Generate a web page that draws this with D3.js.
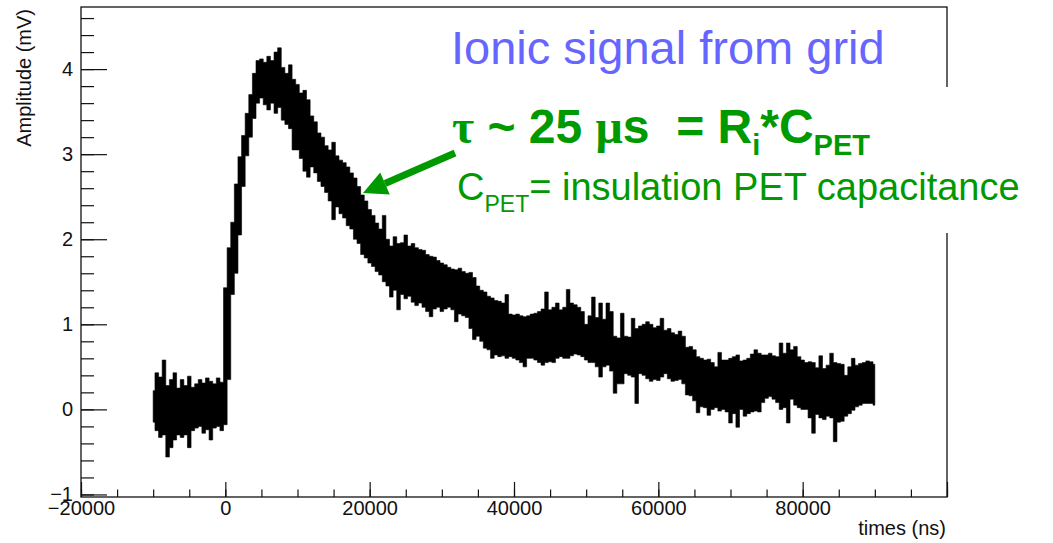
<!DOCTYPE html>
<html>
<head>
<meta charset="utf-8">
<script src="https://cdn.jsdelivr.net/npm/d3@7"></script>
<style>
  html, body { margin: 0; padding: 0; background: #fff; }
  svg { display: block; }
  text { font-family: "Liberation Sans", Arial, Helvetica, sans-serif; }
</style>
</head>
<body>
<svg id="chart" width="1053" height="543"></svg>
<script>
// Waveform sampling grid (ns)
const tStart = -10000;
const tStep = 500;

// Upper envelope of the recorded trace (mV), one value per sample
const ampHigh = [
  0.22,0.43,0.38,0.58,0.28,0.35,0.43,0.25,0.35,0.28,0.39,0.26,0.30,0.35,0.31,0.37,0.33,0.30,0.37,0.32,1.43,
  1.90,2.20,2.65,2.97,3.22,3.48,3.70,3.95,4.10,
  4.12,4.08,4.15,4.10,4.20,4.25,4.02,3.95,4.05,3.88,3.82,
  3.72,3.75,3.64,3.45,3.38,3.25,3.20,3.10,3.05,3.14,2.98,2.93,2.90,2.85,2.78,2.72,2.62,2.52,2.45,2.35,2.28,
  2.19,2.12,2.28,2.00,1.92,2.03,1.95,1.96,2.05,1.92,1.95,1.90,1.88,1.87,1.82,1.80,1.79,1.75,1.72,1.70,1.67,
  1.65,1.64,1.66,1.62,1.60,1.61,1.55,1.45,1.40,1.38,1.33,1.31,1.28,1.27,1.25,1.35,1.12,1.11,1.12,1.10,
  1.09,1.10,1.12,1.13,1.15,1.18,1.38,1.17,1.20,1.25,1.17,1.20,1.41,1.25,1.23,1.20,1.15,1.00,1.10,
  1.32,1.08,1.25,1.06,1.25,1.15,0.86,0.84,1.13,0.86,0.85,1.07,0.95,0.98,1.00,1.03,1.00,0.96,0.98,1.07,0.93,
  0.95,0.90,0.88,0.92,0.86,0.73,0.74,0.70,0.62,0.60,0.58,0.59,0.55,0.50,0.67,0.58,0.58,0.60,0.62,0.64,0.57,
  0.58,0.60,0.65,0.70,0.66,0.64,0.64,0.66,0.63,0.62,0.78,0.66,0.78,0.70,0.74,0.62,0.58,0.55,0.56,
  0.55,0.49,0.63,0.48,0.52,0.66,0.55,0.54,0.53,0.40,0.50,0.60,0.52,0.54,0.55,0.57,0.56,0.53
];

// Lower envelope of the recorded trace (mV), one value per sample
const ampLow = [
  -0.15,-0.25,-0.33,-0.30,-0.56,-0.45,-0.36,-0.30,-0.33,-0.30,-0.45,-0.25,-0.22,-0.20,-0.28,-0.24,-0.36,-0.22,-0.20,-0.25,-0.18,
  0.35,1.35,1.60,2.05,2.62,2.98,3.20,3.42,3.60,
  3.66,3.58,3.52,3.60,3.48,3.55,3.40,3.35,3.30,3.05,3.05,
  2.95,2.80,2.73,2.85,2.78,2.68,2.62,2.55,2.45,2.23,2.38,2.30,2.25,2.16,2.12,2.00,1.95,1.82,1.78,1.72,1.68,
  1.62,1.58,1.50,1.45,1.32,1.40,1.17,1.35,1.30,1.33,1.26,1.22,1.25,1.20,1.15,1.09,1.18,1.20,1.15,1.18,1.20,
  1.17,1.03,1.12,1.10,1.08,0.95,0.82,0.86,0.80,0.72,0.70,0.60,0.64,0.62,0.63,0.60,0.62,0.60,0.58,0.55,
  0.50,0.60,0.60,0.58,0.55,0.52,0.55,0.56,0.55,0.60,0.62,0.60,0.60,0.63,0.65,0.64,0.62,0.58,0.55,
  0.55,0.50,0.38,0.50,0.52,0.45,0.19,0.30,0.30,0.42,0.40,0.38,0.07,0.42,0.40,0.36,0.33,0.35,0.34,0.38,0.42,
  0.36,0.33,0.34,0.35,0.30,0.17,0.16,0.10,-0.04,0.03,0.02,-0.07,0.00,0.02,-0.02,0.00,-0.03,-0.16,-0.05,-0.21,0.00,
  -0.08,-0.05,-0.03,-0.02,-0.03,0.08,0.13,0.15,0.12,0.08,0.00,0.02,-0.16,0.12,0.05,0.02,0.00,0.00,-0.10,
  -0.28,-0.06,-0.10,-0.12,-0.08,-0.10,-0.38,-0.15,-0.14,-0.08,-0.05,-0.01,0.03,0.05,0.07,0.07,0.07,0.05
];

// Axis ticks
const xMajorTicks = [-20000, 0, 20000, 40000, 60000, 80000, 100000];
const xLabelled   = [-20000, 0, 20000, 40000, 60000, 80000];
const yMajorTicks = [-1, 0, 1, 2, 3, 4];

const xDomain = [-20000, 100000];
const yDomain = [-1.03, 4.73];

const frame = { left: 81, right: 947, top: 7, bottom: 497 };
const green = "#009900";

const svg = d3.select("#chart");
svg.append("rect").attr("width", 1053).attr("height", 543).attr("fill", "#fff");

const x = d3.scaleLinear().domain(xDomain).range([frame.left, frame.right]);
const y = d3.scaleLinear().domain(yDomain).range([frame.bottom, frame.top]);

const samples = ampHigh.map((h, i) => ({ t: tStart + i * tStep, hi: h, lo: ampLow[i] }));

// Trace band
const band = d3.area()
  .x(d => x(d.t))
  .y0(d => y(d.lo))
  .y1(d => y(d.hi))
  .curve(d3.curveStep);

svg.append("path")
  .datum(samples)
  .attr("d", band)
  .attr("fill", "#000")
  .attr("stroke", "#000")
  .attr("stroke-width", 0.6);

// Frame
svg.append("rect")
  .attr("x", frame.left).attr("y", frame.top)
  .attr("width", frame.right - frame.left)
  .attr("height", frame.bottom - frame.top)
  .attr("fill", "none").attr("stroke", "#111").attr("stroke-width", 1.3);

const tickFont = 20;

// Y axis: major and minor ticks pointing into the frame
const yMinor = d3.range(-1, 4.7, 0.2).map(v => +v.toFixed(1));
const yMinorAxis = d3.axisLeft(y).tickValues(yMinor).tickSize(-13).tickFormat("");
const yAxis = d3.axisLeft(y).tickValues(yMajorTicks).tickSize(-26).tickPadding(8)
  .tickFormat(d => d3.format("d")(d).replace("-", "\u2212"));

const gyMinor = svg.append("g").attr("transform", `translate(${frame.left},0)`).call(yMinorAxis);
const gy = svg.append("g").attr("transform", `translate(${frame.left},0)`).call(yAxis);

// X axis
const xMinor = d3.range(-20000, 100001, 5000);
const xMinorAxis = d3.axisBottom(x).tickValues(xMinor).tickSize(-7.5).tickFormat("");
const xAxis = d3.axisBottom(x).tickValues(xMajorTicks).tickSize(-15).tickPadding(4)
  .tickFormat(d => xLabelled.includes(d) ? d3.format("d")(d).replace("-", "\u2212") : "");

const gxMinor = svg.append("g").attr("transform", `translate(0,${frame.bottom})`).call(xMinorAxis);
const gx = svg.append("g").attr("transform", `translate(0,${frame.bottom})`).call(xAxis);

[gy, gyMinor, gx, gxMinor].forEach(g => {
  g.select(".domain").remove();
  g.selectAll(".tick line").attr("stroke", "#111").attr("stroke-width", 1.2);
  g.selectAll("text")
    .attr("fill", "#111")
    .style("font-size", tickFont + "px")
    .style("font-family", '"Liberation Sans", Arial, sans-serif');
});

// Axis titles
svg.append("text")
  .attr("transform", "translate(31,9) rotate(-90)")
  .attr("text-anchor", "end")
  .attr("font-size", 20)
  .attr("fill", "#111")
  .text("Amplitude (mV)");

svg.append("text")
  .attr("x", 946).attr("y", 535)
  .attr("text-anchor", "end")
  .attr("font-size", 20)
  .attr("fill", "#111")
  .text("times (ns)");

// Annotation panel covering the right edge of the frame
svg.append("rect")
  .attr("x", 445).attr("y", 87)
  .attr("width", 608).attr("height", 146)
  .attr("fill", "#fff");

// Title
svg.append("text")
  .attr("x", 451).attr("y", 64)
  .attr("font-size", 47)
  .attr("fill", "#6666ff")
  .text("Ionic signal from grid");

// Time constant annotation
const tau = svg.append("text")
  .attr("x", 452).attr("y", 143)
  .attr("font-size", 48)
  .attr("font-weight", "bold")
  .attr("fill", green)
  .style("white-space", "pre");
tau.append("tspan").style("font-family", '"Liberation Serif", serif').text("\u03c4");
tau.append("tspan").text(" ~ 25 ");
tau.append("tspan").style("font-family", '"Liberation Serif", serif').text("\u03bc");
tau.append("tspan").text("s  = R");
tau.append("tspan").attr("font-size", 29).attr("dy", 12).text("i");
tau.append("tspan").attr("font-size", 48).attr("dy", -12).text("*C");
tau.append("tspan").attr("font-size", 29).attr("dy", 12).text("PET");

const cap = svg.append("text")
  .attr("x", 457).attr("y", 200)
  .attr("font-size", 38)
  .attr("fill", green);
cap.append("tspan").text("C");
cap.append("tspan").attr("font-size", 23).attr("dy", 12).text("PET");
cap.append("tspan").attr("font-size", 38).attr("dy", -12).text("= insulation PET capacitance");

// Arrow pointing at the decay
const tail = [455, 153], tip = [363, 193];
const ang = Math.atan2(tip[1] - tail[1], tip[0] - tail[0]);
const headLen = 24, headHalf = 12;
const base = [tip[0] - headLen * Math.cos(ang), tip[1] - headLen * Math.sin(ang)];
svg.append("line")
  .attr("x1", tail[0]).attr("y1", tail[1])
  .attr("x2", base[0]).attr("y2", base[1])
  .attr("stroke", green).attr("stroke-width", 7);
svg.append("path")
  .attr("d", d3.line()([
    tip,
    [base[0] + headHalf * Math.sin(ang), base[1] - headHalf * Math.cos(ang)],
    [base[0] - headHalf * Math.sin(ang), base[1] + headHalf * Math.cos(ang)]
  ]) + "Z")
  .attr("fill", green);
</script>
</body>
</html>
